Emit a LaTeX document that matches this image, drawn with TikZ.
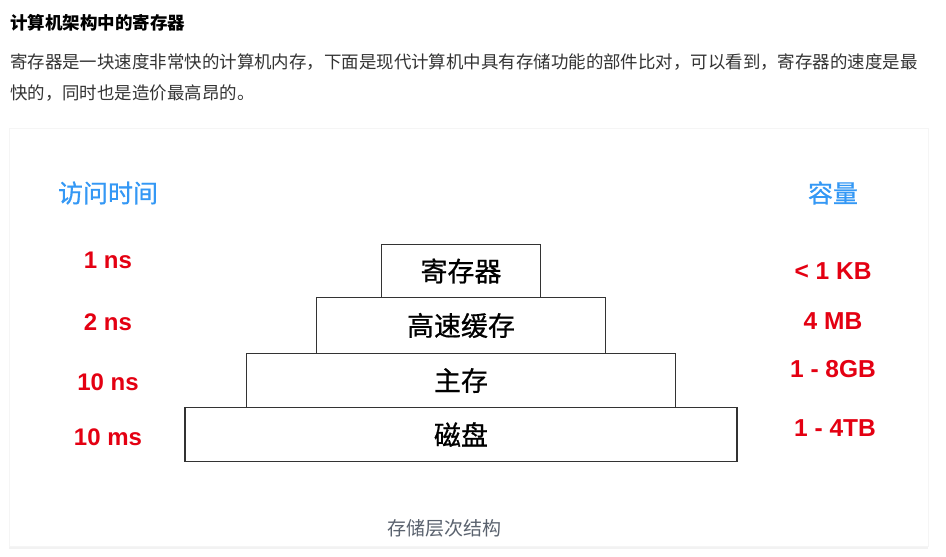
\documentclass[tikz,border=0pt]{standalone}
\usepackage{fontspec}
\setmainfont{Noto Sans CJK SC}
\newfontfamily\latin{Liberation Sans}
\newfontfamily\midcjk[FakeBold=0.7]{Noto Sans CJK SC}
\usetikzlibrary{positioning,shadows}
\definecolor{headblue}{RGB}{52,152,245}
\definecolor{labelred}{RGB}{228,0,18}
\definecolor{bodygray}{RGB}{51,51,51}
\definecolor{capgray}{RGB}{90,98,110}

\begin{document}
\begin{tikzpicture}[x=1pt, y=-1pt,
        tier/.style={rectangle, draw=black!80, line width=1.2pt, fill=white, minimum height=54pt, outer sep=0pt, inner sep=0pt, font=\midcjk\fontsize{27}{30}\selectfont},
        head/.style={color=headblue, font=\midcjk\fontsize{25}{28}\selectfont},
        timelabel/.style={color=labelred, font=\latin\bfseries\fontsize{24}{28}\selectfont},
        sizelabel/.style={color=labelred, font=\latin\bfseries\fontsize{24.5}{28}\selectfont}]
        \useasboundingbox[fill=white] (0,0) rectangle (946,557);

        \node[anchor=base west, inner sep=0pt, font=\bfseries\fontsize{17.5}{20}\selectfont] (title) at (10,29) {计算机架构中的寄存器};
        \node[anchor=base west, inner sep=0pt, color=bodygray, font=\fontsize{17.45}{20}\selectfont] (line1) at (10,68) {寄存器是一块速度非常快的计算机内存，下面是现代计算机中具有存储功能的部件比对，可以看到，寄存器的速度是最};
        \node[anchor=base west, inner sep=0pt, color=bodygray, font=\fontsize{17.45}{20}\selectfont] (line2) at (10,99) {快的，同时也是造价最高昂的。};

        \fill[white, draw=black!4, drop shadow={opacity=0.1, shadow xshift=0pt, shadow yshift=-3pt}] (9,128) rectangle (928,546);

        \node[tier, minimum width=552pt] (disk) at (461,434.5) {磁盘};
        \node[tier, minimum width=429pt, above=0pt of disk] (mem) {主存};
        \node[tier, minimum width=289pt, minimum height=56pt, above=0pt of mem] (cache) {高速缓存};
        \node[tier, minimum width=159pt, minimum height=53pt, above=0pt of cache] (reg) {寄存器};

        \node[head] (timehead) at (108,193) {访问时间};
        \node[head] (sizehead) at (833,193) {容量};

        \node[timelabel] (t1) at (108,260) {1 ns};
        \node[timelabel] (t2) at (108,322) {2 ns};
        \node[timelabel] (t3) at (108,382) {10 ns};
        \node[timelabel] (t4) at (108,437) {10 ms};

        \node[sizelabel] (s1) at (833,271) {< 1 KB};
        \node[sizelabel] (s2) at (833,321) {4 MB};
        \node[sizelabel] (s3) at (833,369) {1 - 8GB};
        \node[sizelabel] (s4) at (835,428) {1 - 4TB};

        \node[color=capgray, font=\fontsize{19}{22}\selectfont] (caption) at (444,528) {存储层次结构};
    \end{tikzpicture}
\end{document}
